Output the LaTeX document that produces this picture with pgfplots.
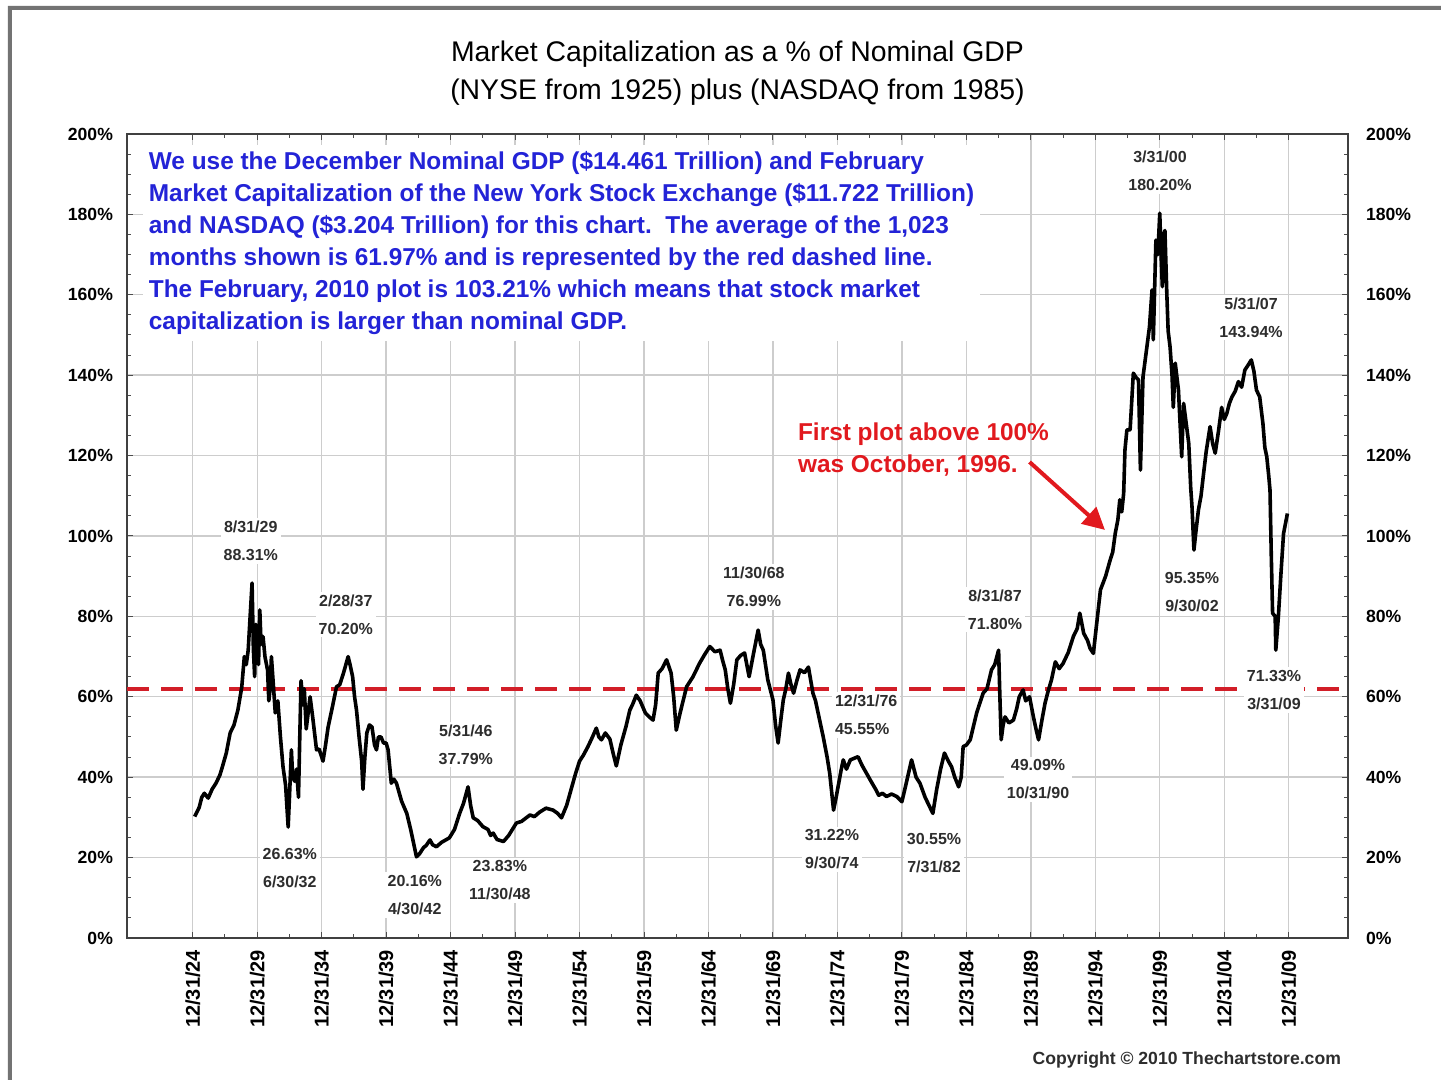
\documentclass[border=0pt]{standalone}
\usepackage{fontspec}
\setmainfont{Liberation Sans}
\usepackage{pgfplots}
\pgfplotsset{compat=1.18}
\usetikzlibrary{calc,arrows.meta}
\definecolor{noteblue}{RGB}{35,35,215}
\definecolor{notered}{RGB}{225,25,30}
\definecolor{avgred}{RGB}{210,30,40}
\definecolor{gridgray}{RGB}{205,205,205}
\definecolor{lblgray}{RGB}{45,45,45}

% market cap / nominal GDP, in %
\pgfplotstableread{
year val
1925.15 30.2
1925.5 32.5
1925.7 35
1925.9 36
1926.2 34.8
1926.5 37
1926.8 38.5
1927.1 40.5
1927.3 42.6
1927.6 46
1927.9 51
1928.2 53
1928.5 56.7
1928.8 62.4
1929.0 70
1929.15 68
1929.3 71.6
1929.45 80
1929.6 88.3
1929.7 72
1929.8 65
1929.9 78
1930.0 76
1930.1 68
1930.2 81.6
1930.3 73
1930.45 75
1930.6 70
1930.8 66.7
1930.9 59
1931.0 62
1931.1 70
1931.25 63
1931.4 56
1931.6 59
1931.8 50
1932.0 42.6
1932.2 38
1932.4 27.6
1932.5 35
1932.65 46.8
1932.75 40
1932.9 39
1933.05 42
1933.2 35
1933.3 50
1933.4 64
1933.55 58
1933.65 62
1933.8 52
1934.1 60
1934.3 55
1934.6 46.8
1934.8 47
1935.0 45
1935.1 44
1935.3 48
1935.5 52.5
1935.8 57
1936.15 62.5
1936.4 63
1936.7 66
1937.05 70
1937.2 68
1937.4 65
1937.55 60
1937.7 56.7
1937.9 50
1938.1 44
1938.2 37
1938.35 45
1938.5 51
1938.7 53
1938.9 52.5
1939.1 48
1939.25 46.8
1939.4 50
1939.6 50
1939.8 48.5
1940.0 48.5
1940.15 46.8
1940.4 38.5
1940.6 39.5
1940.8 38.5
1941.2 34
1941.6 31
1941.9 27
1942.1 24
1942.35 20.2
1942.6 21
1942.9 22.5
1943.1 23
1943.4 24.4
1943.6 23.2
1943.9 22.7
1944.3 23.8
1944.9 24.9
1945.3 27
1945.7 31
1946.0 33.5
1946.35 37.6
1946.55 33
1946.75 29.9
1947.1 29.2
1947.5 27.7
1947.9 27
1948.1 25.5
1948.3 26.1
1948.6 24.5
1949.1 24
1949.5 25.5
1950.1 28.6
1950.5 29
1951.15 30.6
1951.5 30.2
1951.9 31.3
1952.4 32.3
1952.95 31.8
1953.3 31
1953.6 29.9
1954.0 33
1954.4 37.6
1954.7 41
1955.0 44
1955.3 45.5
1955.65 47.6
1956.0 50
1956.3 52.2
1956.5 50
1956.7 49.3
1957.0 51
1957.35 49.5
1957.6 46
1957.85 42.8
1958.2 48
1958.6 52.6
1958.9 56.7
1959.1 58
1959.4 60.4
1959.7 59
1960.1 56
1960.4 55
1960.7 54.2
1960.9 58
1961.1 65.9
1961.4 67
1961.75 69.2
1962.1 65.9
1962.3 60
1962.5 51.7
1962.8 56
1963.3 62.5
1963.8 65
1964.3 68.3
1964.7 70.5
1965.1 72.5
1965.5 71.2
1965.9 71.6
1966.1 69
1966.3 66.7
1966.5 62
1966.7 58.4
1966.95 63
1967.2 69.2
1967.5 70.3
1967.8 70.9
1968.15 65
1968.5 70.9
1968.85 76.6
1969.05 73
1969.25 71.6
1969.6 64.2
1970.0 59.2
1970.2 53
1970.4 48.5
1970.6 54
1970.8 59.2
1971.0 62
1971.2 65.9
1971.4 63
1971.6 60.9
1971.85 64
1972.1 66.7
1972.45 66
1972.75 67.4
1973.1 60.9
1973.3 59
1973.5 56
1973.9 50
1974.2 45
1974.4 41
1974.7 31.8
1974.9 35
1975.1 38.5
1975.3 42
1975.45 44.3
1975.7 42
1976.0 44.3
1976.6 45.1
1976.9 43
1977.25 41
1977.6 39
1978.0 36.8
1978.2 35.5
1978.5 36
1978.8 35.2
1979.2 35.8
1979.6 35.2
1980.0 33.9
1980.3 38
1980.75 44.3
1981.1 40
1981.4 38.5
1981.8 35
1982.1 33
1982.4 31
1982.7 37
1983.0 42
1983.3 46
1983.6 44
1983.85 42.6
1984.1 40
1984.4 37.6
1984.6 40
1984.75 47.6
1985.0 48
1985.3 49.3
1985.5 52
1985.8 56
1986.0 58
1986.3 60.9
1986.6 62
1986.95 66.7
1987.2 68
1987.5 71.6
1987.6 60
1987.7 49.3
1987.85 53
1988.0 55
1988.3 53.5
1988.65 54.2
1988.9 57
1989.1 60
1989.4 61.7
1989.6 59
1989.9 60
1990.2 55
1990.4 52
1990.6 49.3
1990.85 54
1991.1 58.4
1991.35 61.5
1991.6 64.2
1991.9 68.7
1992.2 67
1992.5 68.3
1992.9 71
1993.3 75
1993.6 77
1993.8 80.8
1994.1 75.8
1994.4 74
1994.6 72
1994.85 70.8
1995.1 78
1995.4 86.6
1995.8 90
1996.15 94
1996.35 96
1996.55 100.7
1996.75 104
1996.9 109
1997.05 106
1997.2 110.6
1997.3 121.4
1997.45 126.4
1997.7 126.4
1997.95 140.5
1998.15 139.5
1998.35 138.8
1998.5 116.4
1998.7 139.6
1999.0 147
1999.2 152
1999.4 161.2
1999.5 148.8
1999.7 173.6
1999.85 170
2000.0 180.3
2000.1 170
2000.2 162
2000.3 175
2000.4 176
2000.55 160
2000.65 151
2000.8 147
2000.95 140
2001.05 132
2001.2 143
2001.45 136.3
2001.7 119.7
2001.85 133
2002.05 128
2002.25 123
2002.4 112
2002.5 107.3
2002.65 96.5
2002.8 101
2003.0 106.5
2003.2 110
2003.4 115.6
2003.6 121
2003.9 127.2
2004.1 123
2004.3 120.6
2004.55 126
2004.8 132
2005.0 129
2005.2 130.5
2005.4 133
2005.6 134.6
2005.85 136
2006.1 138.4
2006.35 137
2006.6 141.3
2006.85 142.5
2007.1 143.8
2007.3 141
2007.5 136.3
2007.75 134.6
2008.0 128
2008.15 122
2008.3 119.7
2008.45 115
2008.55 111.4
2008.65 95
2008.75 80.8
2008.95 80
2009.0 71.6
2009.2 80
2009.4 90.7
2009.6 100.6
2009.9 105.6
}\mcapdata

\pgfplotsset{
  every axis/.append style={
    scale only axis,
    width=610.5pt, height=402pt,
    xmin=1919.9, xmax=2014.6,
    ymin=0, ymax=200,
    ytick={0,20,...,200},
    /pgf/number format/assume math mode=true,
  },
}
\tikzset{
  lbl/.style={font=\bfseries\fontsize{8}{14}\selectfont, text=lblgray,
    align=center, fill=white, inner sep=1.5pt},
}

\begin{document}
\begin{tikzpicture}
\begin{axis}[
  name=ax,
  set layers,
  clip=false,
  axis line style={draw=black!75, line width=0.7pt},
  xtick={1925,1930,...,2010},
  xticklabels={12/31/24,12/31/29,12/31/34,12/31/39,12/31/44,12/31/49,
    12/31/54,12/31/59,12/31/64,12/31/69,12/31/74,12/31/79,12/31/84,
    12/31/89,12/31/94,12/31/99,12/31/04,12/31/09},
  minor x tick num=1,
  minor y tick num=3,
  major tick length=3pt, minor tick length=2pt,
  tick style={black!70, line width=0.5pt},
  xmajorgrids, ymajorgrids,
  grid style={gridgray, line width=0.7pt},
  xticklabel style={font=\bfseries\fontsize{10}{11}\selectfont,
    yshift=-2.5pt, rotate=90, anchor=east},
  yticklabel={\pgfmathprintnumber{\tick}\%},
  yticklabel style={font=\bfseries\fontsize{8.8}{10}\selectfont, xshift=-3.5pt},
  title={Market Capitalization as a \% of Nominal GDP\\(NYSE from 1925) plus (NASDAQ from 1985)},
  title style={at={(0.5,1)}, anchor=south, yshift=5pt, align=center,
    font=\fontsize{14.2}{19}\selectfont},
]
% average of all months
\addplot[avgred, line width=2pt, dash pattern=on 11pt off 6pt]
  coordinates {(1919.9,61.97) (2014.6,61.97)};

\node[anchor=north west, fill=white, align=left, inner sep=3pt,
  font=\bfseries\fontsize{12.2}{16}\selectfont, text=noteblue]
  at (axis cs:1921.1,197.3) {We use the December Nominal GDP (\$14.461 Trillion) and February\\
  Market Capitalization of the New York Stock Exchange (\$11.722 Trillion)\\
  and NASDAQ (\$3.204 Trillion) for this chart.\ \ The average of the 1,023\\
  months shown is 61.97\% and is represented by the red dashed line.\\
  The February, 2010 plot is 103.21\% which means that stock market\\
  capitalization is larger than nominal GDP.};

\node[lbl] at (axis cs:1929.50,98.76) {8/31/29\\88.31\%};
\node[lbl] at (axis cs:1936.87,80.47) {2/28/37\\70.20\%};
\node[lbl] at (axis cs:1932.53,17.41) {26.63\%\\6/30/32};
\node[lbl] at (axis cs:1942.22,10.70) {20.16\%\\4/30/42};
\node[lbl] at (axis cs:1946.18,48.13) {5/31/46\\37.79\%};
\node[lbl] at (axis cs:1948.82,14.30) {23.83\%\\11/30/48};
\node[lbl] at (axis cs:1968.52,87.31) {11/30/68\\76.99\%};
\node[lbl, align=left, anchor=west] at (axis cs:1974.55,55.47) {12/31/76\\45.55\%};
\node[lbl] at (axis cs:1974.57,22.01) {31.22\%\\9/30/74};
\node[lbl] at (axis cs:1982.49,21.14) {30.55\%\\7/31/82};
\node[lbl] at (axis cs:1987.22,81.72) {8/31/87\\71.80\%};
\node[lbl] at (axis cs:1990.56,39.43) {49.09\%\\10/31/90};
\node[lbl] at (axis cs:2000.02,190.80) {3/31/00\\180.20\%};
\node[lbl] at (axis cs:2007.08,154.35) {5/31/07\\143.94\%};
\node[lbl] at (axis cs:2002.50,86.07) {95.35\%\\9/30/02};
\node[lbl] at (axis cs:2008.86,61.69) {71.33\%\\3/31/09};

\node[anchor=west, align=left, text=notered,
  font=\bfseries\fontsize{12.2}{16}\selectfont]
  at (axis cs:1971.4,121.6) {First plot above 100\%\\was October, 1996.};
\draw[notered, line width=2pt, -{Triangle[length=11pt, width=11pt]}]
  (axis cs:1989.9,118.4) -- (axis cs:1995.75,101.5);

\addplot[on layer=axis foreground, black, line width=1.8pt, line join=round]
  table[x=year, y=val] {\mcapdata};
\end{axis}

% right-hand percent labels
\begin{axis}[
  hide x axis,
  axis y line*=right,
  y axis line style={draw=none},
  major tick length=0pt,
  yticklabel={\pgfmathprintnumber{\tick}\%},
  yticklabel style={font=\bfseries\fontsize{8.8}{10}\selectfont, xshift=5.5pt},
]
\addplot[draw=none] coordinates {(1950,50)};
\end{axis}

\node[anchor=east, font=\bfseries\fontsize{8.8}{10}\selectfont, text=lblgray]
  at ($(ax.south east)+(0pt,-61pt)$) {Copyright \textcopyright\ 2010 Thechartstore.com};

\pgfresetboundingbox
\path[use as bounding box] ($(ax.south west)+(-63.5pt,-71pt)$)
  rectangle ($(ax.north east)+(46.5pt,67pt)$);
\draw[black!55, line width=2pt]
  ($(ax.south west)+(-58.5pt,-120pt)$) -- ($(ax.south west)+(-58.5pt,465pt)$)
  -- ($(ax.north east)+(80pt,63pt)$);
\end{tikzpicture}
\end{document}
